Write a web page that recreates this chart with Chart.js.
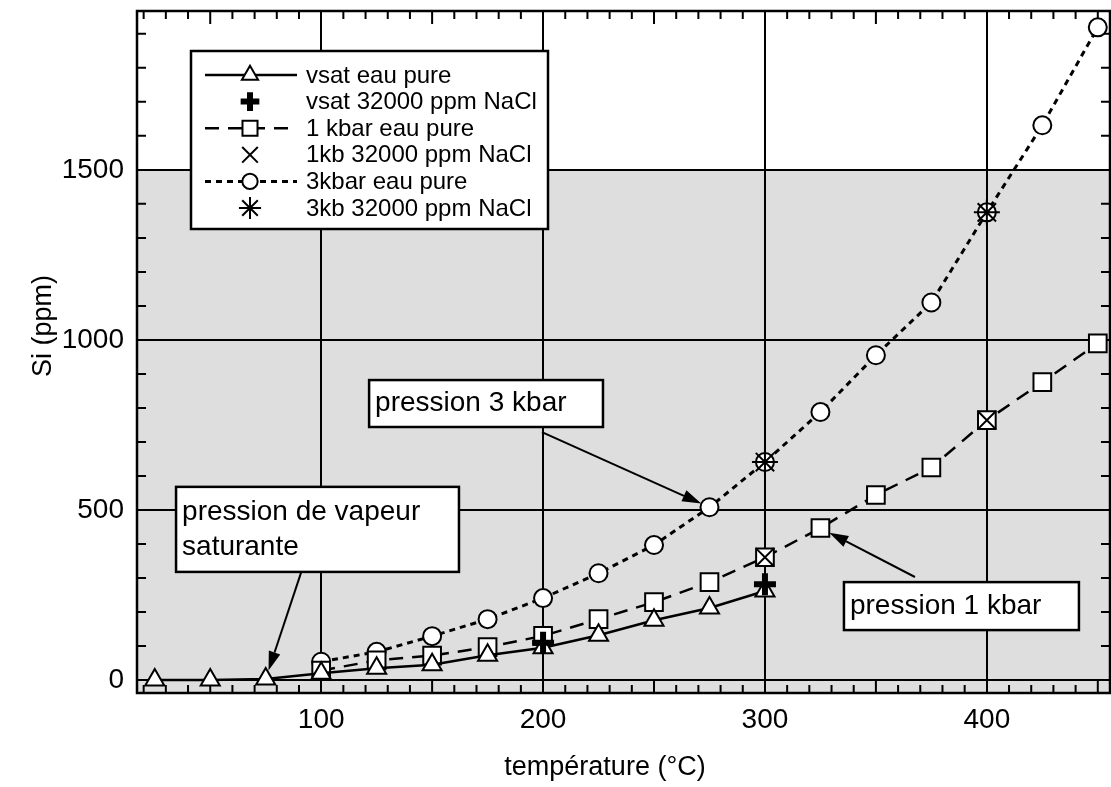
<!DOCTYPE html>
<html>
<head>
<meta charset="utf-8">
<script src="https://cdn.jsdelivr.net/npm/chart.js@4.4.0/dist/chart.umd.min.js"></script>
<style>
  html, body { margin: 0; padding: 0; background: #fff; }
  #wrap { width: 1111px; height: 787px; }
</style>
</head>
<body>
<div id="wrap"><canvas id="chart"></canvas></div>
<script>
// values: Si (ppm) against temperature (°C)
const tempVsat = [25, 50, 75, 100, 125, 150, 175, 200, 225, 250, 275, 300];
const siVsatPure = [0, 0, 3, 20, 35, 45, 73, 95, 132, 176, 212, 262];

const tempVsatNaCl = [200, 300];
const siVsatNaCl = [110, 282];

const tempKbar = [100, 125, 150, 175, 200, 225, 250, 275, 300, 325, 350, 375, 400, 425, 450];
const si1kbarPure = [28, 58, 72, 97, 130, 179, 229, 288, 361, 447, 544, 625, 764, 876, 990];
const si3kbarPure = [54, 83, 129, 179, 241, 314, 397, 508, 641, 788, 955, 1110, 1375, 1631, 1919];

const temp1kbNaCl = [300, 400];
const si1kbNaCl = [361, 764];

const temp3kbNaCl = [300, 400];
const si3kbNaCl = [641, 1375];

const xLabels = [100, 200, 300, 400];
const yLabels = [0, 500, 1000, 1500];

const FONT = '"Liberation Sans", Arial, Helvetica, sans-serif';
Chart.defaults.font.family = FONT;
Chart.defaults.color = '#000';

function pts(xs, ys) {
  return xs.map((x, i) => ({ x: x, y: ys[i] }));
}

// tick marks every `step` inside the scale range
function minorTicks(scale, step) {
  const out = [];
  for (let v = Math.ceil(scale.min / step) * step; v <= scale.max; v += step) out.push({ value: v });
  scale.ticks = out;
}

function noPad(s) {
  s.paddingTop = 0; s.paddingBottom = 0;
  s.paddingLeft = 0; s.paddingRight = 0;
}

// text boxes with arrows, anchored in data units
const notes = [
  { lines: ['pression 3 kbar'], box: [121.6, 882, 227, 744], from: [199.5, 729], to: [275, 508], gap: 9 },
  { lines: ['pression de vapeur', 'saturante'], box: [34.6, 568, 162.1, 318], from: [90.9, 315], to: [75, 3], gap: 9 },
  { lines: ['pression 1 kbar'], box: [335.6, 288, 441.5, 147], from: [367.6, 303], to: [325, 447], gap: 10 }
];

function arrow(ctx, x1, y1, x2, y2) {
  const ang = Math.atan2(y2 - y1, x2 - x1);
  const len = 19, half = 6;
  const bx = x2 - len * Math.cos(ang), by = y2 - len * Math.sin(ang);
  ctx.beginPath();
  ctx.moveTo(x1, y1);
  ctx.lineTo(bx, by);
  ctx.stroke();
  ctx.beginPath();
  ctx.moveTo(x2, y2);
  ctx.lineTo(bx + half * Math.sin(ang), by - half * Math.cos(ang));
  ctx.lineTo(bx - half * Math.sin(ang), by + half * Math.cos(ang));
  ctx.closePath();
  ctx.fill();
}

const framePlugin = {
  id: 'frame',
  beforeDraw(chart) {
    const ctx = chart.ctx, a = chart.chartArea, y = chart.scales.y;
    ctx.save();
    ctx.fillStyle = '#dedede';
    const top = y.getPixelForValue(1500);
    ctx.fillRect(a.left, top, a.right - a.left, a.bottom - top);
    ctx.restore();
  },
  beforeDatasetsDraw(chart) {
    const ctx = chart.ctx, a = chart.chartArea;
    const xs = chart.scales.x, ys = chart.scales.y;
    ctx.save();
    ctx.strokeStyle = '#000';
    ctx.lineWidth = 2;
    ctx.beginPath();
    xs.ticks.forEach(t => {
      const v = t.value;
      if (v <= xs.min || v >= xs.max || v % 100 === 0) return;
      const p = xs.getPixelForValue(v);
      const len = v % 50 === 0 ? 13 : 8;
      ctx.moveTo(p, a.bottom); ctx.lineTo(p, a.bottom - len);
      ctx.moveTo(p, a.top); ctx.lineTo(p, a.top + len);
    });
    ys.ticks.forEach(t => {
      const v = t.value;
      if (v <= ys.min || v >= ys.max || v % 500 === 0) return;
      const p = ys.getPixelForValue(v);
      ctx.moveTo(a.left, p); ctx.lineTo(a.left + 9, p);
      ctx.moveTo(a.right, p); ctx.lineTo(a.right - 9, p);
    });
    ctx.stroke();
    ctx.lineWidth = 2.5;
    ctx.strokeRect(a.left, a.top, a.right - a.left, a.bottom - a.top);
    ctx.restore();
  },
  afterDraw(chart) {
    const ctx = chart.ctx, a = chart.chartArea;
    const xs = chart.scales.x, ys = chart.scales.y;
    ctx.save();
    ctx.fillStyle = '#000';
    ctx.strokeStyle = '#000';

    // annotations
    ctx.font = '28px ' + FONT;
    ctx.textBaseline = 'middle';
    notes.forEach(n => {
      const x1 = xs.getPixelForValue(n.box[0]), y1 = ys.getPixelForValue(n.box[1]);
      const x2 = xs.getPixelForValue(n.box[2]), y2 = ys.getPixelForValue(n.box[3]);
      ctx.fillStyle = '#fff';
      ctx.fillRect(x1, y1, x2 - x1, y2 - y1);
      ctx.lineWidth = 2.5;
      ctx.strokeRect(x1, y1, x2 - x1, y2 - y1);
      ctx.fillStyle = '#000';
      const lh = 35;
      const cy = (y1 + y2) / 2 - (n.lines.length - 1) * lh / 2;
      n.lines.forEach((t, i) => ctx.fillText(t, x1 + 6, cy + i * lh));
      const fx = xs.getPixelForValue(n.from[0]), fy = ys.getPixelForValue(n.from[1]);
      const tx = xs.getPixelForValue(n.to[0]), ty = ys.getPixelForValue(n.to[1]);
      const d = Math.hypot(tx - fx, ty - fy);
      ctx.lineWidth = 2;
      arrow(ctx, fx, fy, tx - (tx - fx) / d * n.gap, ty - (ty - fy) / d * n.gap);
    });

    // legend box
    const bx = a.left + 54, by = a.top + 40, bw = 357, bh = 178;
    ctx.fillStyle = '#fff';
    ctx.fillRect(bx, by, bw, bh);
    ctx.lineWidth = 2.5;
    ctx.strokeRect(bx, by, bw, bh);
    ctx.font = '24px ' + FONT;
    chart.data.datasets.forEach((ds, i) => {
      const y = by + 24 + i * 26.6;
      if (ds.showLine) {
        ctx.beginPath();
        ctx.setLineDash(ds.borderDash || []);
        ctx.lineWidth = ds.borderWidth;
        ctx.strokeStyle = ds.borderColor;
        ctx.moveTo(bx + 14, y);
        ctx.lineTo(bx + 106, y);
        ctx.stroke();
        ctx.setLineDash([]);
      }
      ctx.fillStyle = ds.pointBackgroundColor;
      ctx.strokeStyle = ds.pointBorderColor;
      ctx.lineWidth = ds.pointBorderWidth;
      Chart.helpers.drawPoint(ctx, {
        pointStyle: ds.pointStyle, rotation: 0,
        radius: ds.pointRadius * 0.85, borderWidth: ds.pointBorderWidth
      }, bx + 59, y);
      ctx.fillStyle = '#000';
      ctx.fillText(ds.label, bx + 115, y + 1);
    });

    // axis titles
    ctx.font = '27px ' + FONT;
    ctx.textAlign = 'center';
    ctx.fillText('température (°C)', 605, 768);
    ctx.translate(44, 326);
    ctx.rotate(-Math.PI / 2);
    ctx.fillText('Si (ppm)', 0, 0);
    ctx.restore();
  }
};

const marker = {
  pointBackgroundColor: '#fff',
  pointBorderColor: '#000',
  pointBorderWidth: 2,
  borderColor: '#000'
};

new Chart(document.getElementById('chart'), {
  type: 'scatter',
  data: {
    datasets: [
      Object.assign({}, marker, {
        label: 'vsat eau pure', data: pts(tempVsat, siVsatPure), order: 1,
        showLine: true, borderWidth: 2.5, pointStyle: 'triangle', pointRadius: 11
      }),
      Object.assign({}, marker, {
        label: 'vsat 32000 ppm NaCl', data: pts(tempVsatNaCl, siVsatNaCl), order: 0,
        showLine: false, pointStyle: 'cross', pointRadius: 11, pointBorderWidth: 6
      }),
      Object.assign({}, marker, {
        label: '1 kbar eau pure', data: pts(tempKbar, si1kbarPure), order: 2,
        showLine: true, borderWidth: 2.5, borderDash: [14, 9], pointStyle: 'rect', pointRadius: 12.5
      }),
      Object.assign({}, marker, {
        label: '1kb 32000 ppm NaCl', data: pts(temp1kbNaCl, si1kbNaCl), order: 0,
        showLine: false, pointStyle: 'crossRot', pointRadius: 13
      }),
      Object.assign({}, marker, {
        label: '3kbar eau pure', data: pts(tempKbar, si3kbarPure), order: 3,
        showLine: true, borderWidth: 3, borderDash: [6, 5], pointStyle: 'circle', pointRadius: 9
      }),
      Object.assign({}, marker, {
        label: '3kb 32000 ppm NaCl', data: pts(temp3kbNaCl, si3kbNaCl), order: 0,
        showLine: false, pointStyle: 'star', pointRadius: 13
      })
    ]
  },
  options: {
    responsive: true,
    maintainAspectRatio: false,
    animation: false,
    events: [],
    layout: { autoPadding: false, padding: { left: 0, top: 11, right: 1, bottom: 0 } },
    plugins: {
      legend: { display: false },
      tooltip: { enabled: false }
    },
    scales: {
      x: {
        type: 'linear',
        min: 17,
        max: 455.5,
        afterBuildTicks: s => minorTicks(s, 10),
        afterFit: s => { s.height = 94; noPad(s); },
        border: { display: false },
        grid: {
          drawTicks: false,
          lineWidth: 2,
          color: c => xLabels.includes(c.tick.value) ? '#000' : 'rgba(0,0,0,0)'
        },
        ticks: {
          autoSkip: false,
          maxRotation: 0,
          padding: 10,
          font: { size: 28 },
          callback: v => xLabels.includes(v) ? String(v) : ''
        }
      },
      y: {
        type: 'linear',
        min: -38,
        max: 1967,
        afterBuildTicks: s => minorTicks(s, 100),
        afterFit: s => { s.width = 137; noPad(s); },
        border: { display: false },
        grid: {
          drawTicks: false,
          lineWidth: 2,
          color: c => yLabels.includes(c.tick.value) ? '#000' : 'rgba(0,0,0,0)'
        },
        ticks: {
          autoSkip: false,
          padding: 13,
          font: { size: 28 },
          callback: v => yLabels.includes(v) ? String(v) : ''
        }
      }
    }
  },
  plugins: [framePlugin]
});
</script>
</body>
</html>
